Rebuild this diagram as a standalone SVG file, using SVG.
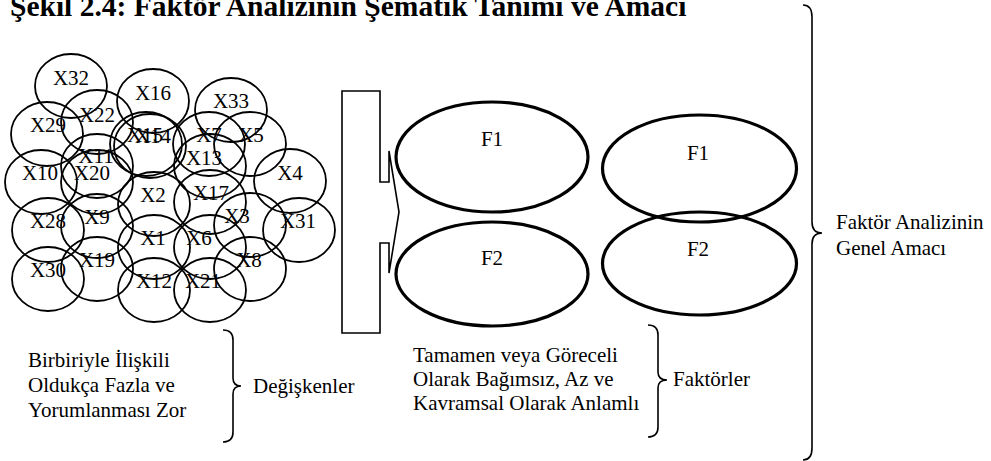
<svg xmlns="http://www.w3.org/2000/svg" width="991" height="461" viewBox="0 0 991 461">
<style>
text{font-family:"Liberation Serif","Times New Roman",serif;font-size:21px;fill:#000}
.v{fill:none;stroke:#000;stroke-width:1.8}
.f{fill:none;stroke:#000;stroke-width:3.2}
.c{text-anchor:middle}
.ln{fill:none;stroke:#000;stroke-width:1.6}
.t{font-weight:bold;font-size:29.5px}
</style>
<rect width="991" height="461" fill="#fff"/>
<text class="t" x="10" y="16">Şekil 2.4: Faktör Analizinin Şematik Tanımı ve Amacı</text>

<g id="variables">
<g id="X32"><ellipse class="v" cx="71" cy="86" rx="36" ry="32"/><text class="c" x="71" y="85">X32</text></g>
<g id="X16"><ellipse class="v" cx="153" cy="101" rx="36" ry="32"/><text class="c" x="153" y="100">X16</text></g>
<g id="X33"><ellipse class="v" cx="231" cy="110" rx="36" ry="32"/><text class="c" x="231" y="108">X33</text></g>
<g id="X22"><ellipse class="v" cx="97" cy="122" rx="36" ry="32"/><text class="c" x="97" y="122">X22</text></g>
<g id="X29"><ellipse class="v" cx="47" cy="134" rx="36" ry="32"/><text class="c" x="48" y="132">X29</text></g>
<g id="X15"><ellipse class="v" cx="146" cy="144" rx="36" ry="32"/><text class="c" x="145" y="142">X15</text></g>
<g id="X14"><ellipse class="v" cx="150" cy="146" rx="36" ry="32"/><text class="c" x="153" y="143">X14</text></g>
<g id="X7"><ellipse class="v" cx="209" cy="144" rx="36" ry="32"/><text class="c" x="209" y="142">X7</text></g>
<g id="X5"><ellipse class="v" cx="250" cy="144" rx="36" ry="32"/><text class="c" x="251" y="142">X5</text></g>
<g id="X11"><ellipse class="v" cx="97" cy="166" rx="36" ry="32"/><text class="c" x="96" y="163">X11</text></g>
<g id="X13"><ellipse class="v" cx="210" cy="166" rx="36" ry="32"/><text class="c" x="204" y="165">X13</text></g>
<g id="X10"><ellipse class="v" cx="41" cy="182" rx="36" ry="32"/><text class="c" x="40" y="180">X10</text></g>
<g id="X20"><ellipse class="v" cx="97" cy="182" rx="36" ry="32"/><text class="c" x="92" y="180">X20</text></g>
<g id="X4"><ellipse class="v" cx="290" cy="181" rx="36" ry="32"/><text class="c" x="290" y="180">X4</text></g>
<g id="X2"><ellipse class="v" cx="154" cy="204" rx="36" ry="32"/><text class="c" x="153" y="202">X2</text></g>
<g id="X17"><ellipse class="v" cx="210" cy="202" rx="36" ry="32"/><text class="c" x="211" y="200">X17</text></g>
<g id="X28"><ellipse class="v" cx="48" cy="230" rx="36" ry="32"/><text class="c" x="48" y="228">X28</text></g>
<g id="X9"><ellipse class="v" cx="97" cy="226" rx="36" ry="32"/><text class="c" x="97" y="224">X9</text></g>
<g id="X3"><ellipse class="v" cx="250" cy="225" rx="36" ry="32"/><text class="c" x="237" y="223">X3</text></g>
<g id="X31"><ellipse class="v" cx="299" cy="230" rx="36" ry="32"/><text class="c" x="298" y="228">X31</text></g>
<g id="X1"><ellipse class="v" cx="154" cy="247" rx="36" ry="32"/><text class="c" x="153" y="245">X1</text></g>
<g id="X6"><ellipse class="v" cx="210" cy="247" rx="36" ry="32"/><text class="c" x="199" y="245">X6</text></g>
<g id="X19"><ellipse class="v" cx="97" cy="269" rx="36" ry="32"/><text class="c" x="97" y="267">X19</text></g>
<g id="X8"><ellipse class="v" cx="250" cy="269" rx="36" ry="32"/><text class="c" x="249" y="267">X8</text></g>
<g id="X30"><ellipse class="v" cx="48" cy="279" rx="36" ry="32"/><text class="c" x="48" y="277">X30</text></g>
<g id="X12"><ellipse class="v" cx="154" cy="290" rx="36" ry="32"/><text class="c" x="154" y="288">X12</text></g>
<g id="X21"><ellipse class="v" cx="210" cy="290" rx="36" ry="32"/><text class="c" x="203" y="288">X21</text></g>
</g>

<g id="F1a"><ellipse class="f" cx="492" cy="157" rx="96" ry="55"/><text class="c" x="492" y="146">F1</text></g>
<g id="F2a"><ellipse class="f" cx="492" cy="274" rx="96" ry="52"/><text class="c" x="492" y="265">F2</text></g>
<g id="F1b"><ellipse class="f" cx="699.5" cy="168.5" rx="97" ry="53.5"/><text class="c" x="698" y="160">F1</text></g>
<g id="F2b"><ellipse class="f" cx="699.5" cy="263.5" rx="97" ry="51.5"/><text class="c" x="698" y="256">F2</text></g>

<g id="connectors">
<path class="ln" d="M342,91 L380,91 L380,182 L389,182 L389,151 L399,212 L389,273 L389,243 L380,243 L380,333 L342,333 Z"/>
<path class="ln" d="M223,330 Q233,330 233,340 L233,378 Q233,386 241,386 Q233,386 233,394 L233,432 Q233,442 223,442"/>
<path class="ln" d="M648,325 Q658,325 658,335 L658,372 Q658,380 667,380 Q658,380 658,388 L658,427 Q658,437 648,437"/>
<path class="ln" d="M803,5 Q812,5 812,17 L812,222 Q812,233 822,233 Q812,233 812,244 L812,448 Q812,460 803,460"/>
</g>

<g id="label-variables">
<text x="28" y="367">Birbiriyle İlişkili</text>
<text x="28" y="392">Oldukça Fazla ve</text>
<text x="28" y="417">Yorumlanması Zor</text>
<text x="253" y="393">Değişkenler</text>
</g>
<g id="label-factors">
<text x="413" y="362">Tamamen veya Göreceli</text>
<text x="413" y="386">Olarak Bağımsız, Az ve</text>
<text x="413" y="410">Kavramsal Olarak Anlamlı</text>
<text x="673" y="386">Faktörler</text>
</g>
<g id="label-goal">
<text x="836" y="229">Faktör Analizinin</text>
<text x="836" y="255">Genel Amacı</text>
</g>
</svg>
